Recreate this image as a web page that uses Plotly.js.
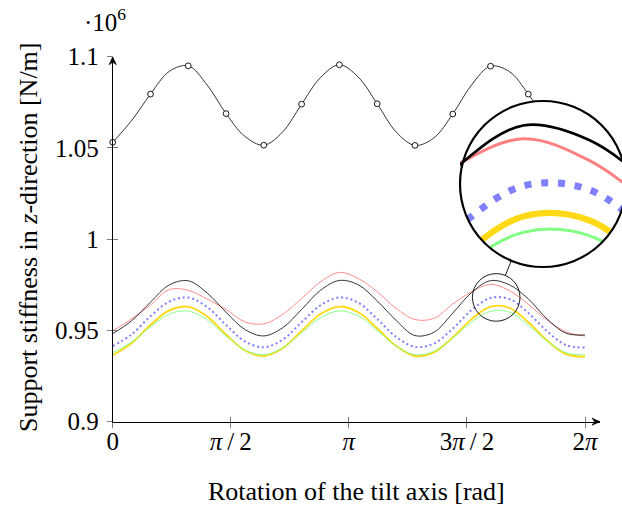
<!DOCTYPE html>
<html><head><meta charset="utf-8">
<script src="https://cdn.plot.ly/plotly-3.0.1.min.js"></script>
<style>html,body{margin:0;padding:0;background:#fff}#chart{width:622px;height:505px}</style>
</head><body><div id="chart"></div>
<script>
// ---------------- data (values in 10^6 N/m) ----------------
const xRad = [0, 0.2513, 0.5027, 0.7540, 1.0053, 1.2566, 1.5080, 1.7593, 2.0106, 2.2619,
  2.5133, 2.7646, 3.0159, 3.2673, 3.5186, 3.7699, 4.0212, 4.2726, 4.5239, 4.7752,
  5.0265, 5.2779, 5.5292, 5.7805, 6.0319, 6.2832];
const topStiff = [1.0531, 1.0650, 1.0795, 1.0920, 1.0950, 1.0845, 1.0688, 1.0563, 1.0515, 1.0588,
  1.0740, 1.0886, 1.0956, 1.0888, 1.0742, 1.0588, 1.0514, 1.0555, 1.0686, 1.0846,
  1.0948, 1.0918, 1.0795, 1.0643, 1.0530, 1.0528];
const blackStiff = [0.9482, 0.9553, 0.9655, 0.9750, 0.9772, 0.9705, 0.9600, 0.9505, 0.9470, 0.9515,
  0.9615, 0.9720, 0.9774, 0.9750, 0.9662, 0.9555, 0.9472, 0.9490, 0.9595, 0.9708,
  0.9773, 0.9750, 0.9673, 0.9562, 0.9485, 0.9475];
const redStiff = [0.9498, 0.9563, 0.9640, 0.9724, 0.9720, 0.9672, 0.9615, 0.9547, 0.9536, 0.9588,
  0.9675, 0.9766, 0.9818, 0.9785, 0.9712, 0.9621, 0.9560, 0.9566, 0.9645, 0.9712,
  0.9752, 0.9718, 0.9643, 0.9556, 0.9492, 0.9469];
const blueStiff = [0.9414, 0.9478, 0.9578, 0.9658, 0.9680, 0.9628, 0.9530, 0.9440, 0.9408, 0.9450,
  0.9545, 0.9638, 0.9681, 0.9652, 0.9563, 0.9465, 0.9410, 0.9428, 0.9510, 0.9612,
  0.9678, 0.9672, 0.9596, 0.9495, 0.9420, 0.9406];
const yellowStiff = [0.9364, 0.9430, 0.9530, 0.9610, 0.9630, 0.9576, 0.9478, 0.9390, 0.9360, 0.9403,
  0.9497, 0.9590, 0.9631, 0.9600, 0.9512, 0.9415, 0.9360, 0.9380, 0.9462, 0.9562,
  0.9630, 0.9624, 0.9545, 0.9444, 0.9370, 0.9356];
const greenStiff = [0.9378, 0.9436, 0.9520, 0.9590, 0.9606, 0.9557, 0.9470, 0.9393, 0.9367, 0.9405,
  0.9487, 0.9570, 0.9607, 0.9580, 0.9500, 0.9414, 0.9367, 0.9385, 0.9458, 0.9546,
  0.9605, 0.9600, 0.9530, 0.9440, 0.9378, 0.9366];
const xTickVals = [0, 1.5708, 3.1416, 4.7124, 6.2832];
const xTickText = ['0', '<i>π</i>\u2009/\u20092', '<i>π</i>', '3<i>π</i>\u2009/\u20092', '2<i>π</i>'];
const yTickVals = [0.9, 0.95, 1, 1.05, 1.1];
const yTickText = ['0.9', '0.95', '1', '1.05', '1.1'];
const spyCenter = [5.102, 0.9681];   // zoomed region (data coords)

// ---------------- geometry (pixels) ----------------
const W = 622, H = 505;
const PX0 = 112.7, PX2PI = 585, PXEND = 600, PYB = 421.7, PYT = 56.7;
const sx = (PX2PI - PX0) / 6.2832, sy = (PYB - PYT) / 0.2;
const xMax = (PXEND - PX0) / sx;
const fx = p => p / W, fy = p => 1 - p / H;
const BIG = {cx: 543, cy: 184, r: 83};
const SMALL_R = 23.8;
const MAG = BIG.r / SMALL_R;
const ix0 = 460, ix1 = W, iy0 = 101, iy1 = 267;
const insetX = [spyCenter[0] - (BIG.cx - ix0) / (sx * MAG), spyCenter[0] + (ix1 - BIG.cx) / (sx * MAG)];
const insetY = [spyCenter[1] - (iy1 - BIG.cy) / (sy * MAG), spyCenter[1] + (BIG.cy - iy0) / (sy * MAG)];

const FONT = 'Liberation Serif, Times New Roman, serif';
const TICKC = '#7a7a7a';

const series = [
  {y: redStiff, color: '#ff8080', w: 0.9, dash: 'solid'},
  {y: blueStiff, color: '#7f7fff', w: 2, dash: '2px,2.8px'},
  {y: yellowStiff, color: '#ffd915', w: 1.8, dash: 'solid'},
  {y: greenStiff, color: '#80ff80', w: 0.9, dash: 'solid'},
  {y: blackStiff, color: '#000000', w: 0.8, dash: 'solid'}
];

const traces = [];
traces.push({x: xRad, y: topStiff, mode: 'lines', line: {color: '#000', width: 0.8, shape: 'spline'}, xaxis: 'x', yaxis: 'y', hoverinfo: 'skip'});
traces.push({x: xRad.filter((_, i) => i % 2 === 0), y: topStiff.filter((_, i) => i % 2 === 0), mode: 'markers',
  marker: {symbol: 'circle', size: 5.8, color: '#fff', line: {color: '#000', width: 0.9}}, cliponaxis: false, xaxis: 'x', yaxis: 'y', hoverinfo: 'skip'});
series.forEach(s => traces.push({x: xRad, y: s.y, mode: 'lines', line: {color: s.color, width: s.w, dash: s.dash, shape: 'spline'}, xaxis: 'x', yaxis: 'y', hoverinfo: 'skip'}));
// overlay axis for inner halves of the ticks
traces.push({x: [], y: [], mode: 'lines', xaxis: 'x3', yaxis: 'y3', hoverinfo: 'skip'});
// inset (magnified) copies
series.forEach(s => {
  let d = s.dash === 'solid' ? 'solid' : (s.w * MAG).toFixed(1) + 'px,' + (2.8 * MAG).toFixed(1) + 'px';
  traces.push({x: xRad, y: s.y, mode: 'lines', line: {color: s.color, width: s.w * MAG * (s.w < 1 ? 0.95 : 1), dash: d, shape: 'spline'}, xaxis: 'x2', yaxis: 'y2', hoverinfo: 'skip'});
});

const P = (x, y) => fx(x).toFixed(5) + ',' + fy(y).toFixed(5);
// circle path (bezier) in paper coordinates
function circlePath(cx, cy, r) {
  const k = 0.5523 * r;
  return 'M' + P(cx + r, cy) +
    ' C' + P(cx + r, cy - k) + ' ' + P(cx + k, cy - r) + ' ' + P(cx, cy - r) +
    ' C' + P(cx - k, cy - r) + ' ' + P(cx - r, cy - k) + ' ' + P(cx - r, cy) +
    ' C' + P(cx - r, cy + k) + ' ' + P(cx - k, cy + r) + ' ' + P(cx, cy + r) +
    ' C' + P(cx + k, cy + r) + ' ' + P(cx + r, cy + k) + ' ' + P(cx + r, cy) + ' Z';
}
// outer mask boundary: box, but hugging the circle in the upper-left quadrant
function outerPath() {
  const R = (BIG.r + 0.3) / Math.cos(Math.PI / 36);
  let pts = [[640, iy1 + 1], [640, iy0 - 1], [BIG.cx, iy0 - 1]];
  for (let a = 90; a <= 180; a += 10) {
    const t = a * Math.PI / 180;
    pts.push([BIG.cx + R * Math.cos(t), BIG.cy - R * Math.sin(t)]);
  }
  pts.push([ix0 - 1, BIG.cy], [ix0 - 1, iy1 + 1]);
  return 'M' + pts.map(p => P(p[0], p[1])).join(' L') + ' Z';
}
const maskPath = outerPath() + ' ' + circlePath(BIG.cx, BIG.cy, BIG.r - 0.5);

// stealth arrow heads at the axis ends (pixel geometry)
function arrowHead(tx, ty, dirx, diry) {
  const L = 8, Wd = 3.6, N = 5.5;
  const px = -diry, py = dirx;
  const b1 = [tx - dirx * L + px * Wd, ty - diry * L + py * Wd];
  const b2 = [tx - dirx * L - px * Wd, ty - diry * L - py * Wd];
  const n = [tx - dirx * N, ty - diry * N];
  return 'M' + P(tx, ty) + ' L' + P(b1[0], b1[1]) + ' L' + P(n[0], n[1]) + ' L' + P(b2[0], b2[1]) + ' Z';
}

// connector between the circles
const smallPx = [PX0 + spyCenter[0] * sx, PYB - (spyCenter[1] - 0.9) * sy];
const dx = BIG.cx - smallPx[0], dy = BIG.cy - smallPx[1], dl = Math.hypot(dx, dy);
const ux = dx / dl, uy = dy / dl;

const shapes = [
  {type: 'circle', xref: 'x2', yref: 'y2', layer: 'below',
    x0: spyCenter[0] - BIG.r / (sx * MAG), x1: spyCenter[0] + BIG.r / (sx * MAG),
    y0: spyCenter[1] - BIG.r / (sy * MAG), y1: spyCenter[1] + BIG.r / (sy * MAG),
    fillcolor: '#fff', line: {width: 0}},
  {type: 'path', xref: 'paper', yref: 'paper', layer: 'above', path: maskPath, fillrule: 'evenodd', fillcolor: '#fff', line: {width: 0}},
  {type: 'circle', xref: 'paper', yref: 'paper', layer: 'above',
    x0: fx(BIG.cx - BIG.r), x1: fx(BIG.cx + BIG.r), y0: fy(BIG.cy + BIG.r), y1: fy(BIG.cy - BIG.r),
    line: {color: '#000', width: 2.2}},
  {type: 'circle', xref: 'x', yref: 'y', layer: 'above',
    x0: spyCenter[0] - SMALL_R / sx, x1: spyCenter[0] + SMALL_R / sx,
    y0: spyCenter[1] - SMALL_R / sy, y1: spyCenter[1] + SMALL_R / sy,
    line: {color: '#000', width: 0.9}},
  {type: 'line', xref: 'paper', yref: 'paper', layer: 'above',
    x0: fx(smallPx[0] + ux * SMALL_R), y0: fy(smallPx[1] + uy * SMALL_R),
    x1: fx(BIG.cx - ux * BIG.r), y1: fy(BIG.cy - uy * BIG.r),
    line: {color: '#000', width: 0.9}},
  {type: 'path', xref: 'paper', yref: 'paper', layer: 'above', path: arrowHead(PXEND, PYB, 1, 0), fillcolor: '#000', line: {color: '#000', width: 0.6}},
  {type: 'path', xref: 'paper', yref: 'paper', layer: 'above', path: arrowHead(PX0, PYT, 0, -1), fillcolor: '#000', line: {color: '#000', width: 0.6}}
];

const tickFont = {family: FONT, size: 25, color: '#000'};
const layout = {
  width: W, height: H, margin: {l: 0, r: 0, t: 0, b: 0},
  paper_bgcolor: '#fff', plot_bgcolor: 'rgba(0,0,0,0)', showlegend: false,
  font: {family: FONT, color: '#000'},
  xaxis: {domain: [fx(PX0), fx(PXEND)], range: [0, xMax], anchor: 'y', showgrid: false, zeroline: false,
    showline: true, linecolor: '#000', linewidth: 1, ticks: 'outside', ticklen: 5, tickwidth: 1, tickcolor: TICKC,
    tickmode: 'array', tickvals: xTickVals, ticktext: xTickText, tickfont: tickFont, ticklabelstandoff: -8},
  yaxis: {domain: [fy(PYB), fy(PYT)], range: [0.9, 1.1], anchor: 'x', showgrid: false, zeroline: false,
    showline: true, linecolor: '#000', linewidth: 1, ticks: 'outside', ticklen: 5, tickwidth: 1, tickcolor: TICKC,
    tickmode: 'array', tickvals: yTickVals, ticktext: yTickText, tickfont: tickFont, ticklabelstandoff: 3},
  xaxis3: {overlaying: 'x', anchor: 'y', range: [0, xMax], showgrid: false, zeroline: false, showline: false,
    ticks: 'inside', ticklen: 5, tickwidth: 1, tickcolor: TICKC, tickmode: 'array', tickvals: xTickVals, showticklabels: false},
  yaxis3: {overlaying: 'y', anchor: 'x', side: 'left', range: [0.9, 1.1], showgrid: false, zeroline: false, showline: false,
    ticks: 'inside', ticklen: 5, tickwidth: 1, tickcolor: TICKC, tickmode: 'array', tickvals: yTickVals, showticklabels: false},
  xaxis2: {domain: [fx(ix0), fx(ix1)], range: insetX, anchor: 'y2', visible: false, showgrid: false, zeroline: false},
  yaxis2: {domain: [fy(iy1), fy(iy0)], range: insetY, anchor: 'x2', visible: false, showgrid: false, zeroline: false},
  shapes: shapes,
  annotations: [
    {xref: 'paper', yref: 'paper', x: fx(105), y: fy(20), text: '·10<sup>6</sup>', showarrow: false, font: {family: FONT, size: 25}, xanchor: 'center', yanchor: 'middle'},
    {xref: 'paper', yref: 'paper', x: fx(28), y: fy(237), text: 'Support stiffness in <i>z</i>-direction [N/m]', textangle: -90, showarrow: false, font: {family: FONT, size: 26}, xanchor: 'center', yanchor: 'middle'},
    {xref: 'paper', yref: 'paper', x: fx(356.5), y: fy(491), text: 'Rotation of the tilt axis [rad]', showarrow: false, font: {family: FONT, size: 26}, xanchor: 'center', yanchor: 'middle'}
  ]
};

Plotly.newPlot('chart', traces, layout, {staticPlot: true, displayModeBar: false});
</script>
</body></html>
